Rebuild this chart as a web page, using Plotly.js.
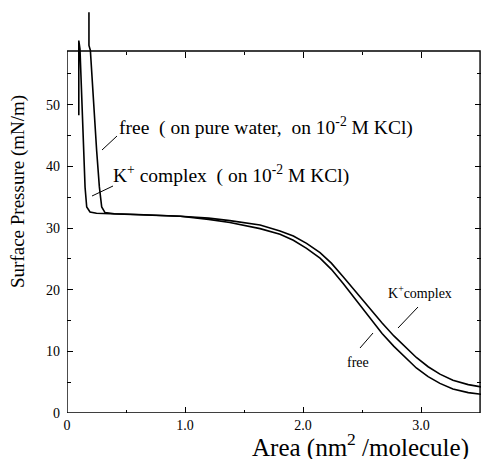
<!DOCTYPE html>
<html>
<head>
<meta charset="utf-8">
<script src="https://cdn.plot.ly/plotly-3.0.1.min.js"></script>
<style>html,body{margin:0;padding:0;background:#fff;}#chart{width:482px;height:459px;}</style>
</head>
<body>
<div id="chart"></div>
<script>
// ---- data (area in nm^2/molecule, surface pressure in mN/m) ----
const freeArea = [0.186, 0.186, 0.198, 0.223, 0.251, 0.274, 0.294, 0.322, 0.40, 0.60, 0.80, 0.96, 1.20, 1.38, 1.636, 1.805, 1.918, 2.03, 2.144, 2.24, 2.34, 2.45, 2.57, 2.67, 2.77, 2.87, 2.96, 3.06, 3.16, 3.27, 3.40, 3.52];
const freePressure = [65.0, 59.6, 58.8, 50.7, 42.6, 36.7, 33.4, 32.5, 32.3, 32.2, 32.1, 31.9, 31.4, 30.9, 29.9, 29.0, 28.0, 26.7, 25.1, 23.3, 21.0, 18.3, 15.3, 12.9, 10.8, 8.9, 7.3, 5.9, 4.8, 3.9, 3.3, 3.0];
const kArea = [0.100, 0.100, 0.110, 0.124, 0.138, 0.153, 0.167, 0.195, 0.25, 0.40, 0.60, 0.80, 0.96, 1.20, 1.38, 1.636, 1.805, 1.918, 2.03, 2.144, 2.24, 2.34, 2.45, 2.57, 2.67, 2.77, 2.87, 2.96, 3.06, 3.16, 3.27, 3.40, 3.52];
const kPressure = [48.3, 60.4, 59.0, 50.7, 42.6, 36.6, 33.4, 32.6, 32.4, 32.3, 32.2, 32.1, 31.9, 31.6, 31.2, 30.5, 29.5, 28.7, 27.5, 26.0, 24.3, 22.1, 19.6, 16.8, 14.6, 12.5, 10.6, 9.0, 7.5, 6.3, 5.3, 4.6, 4.2];
const xTickVals = [0, 1, 2, 3];
const xTickText = ["0", "1.0", "2.0", "3.0"];
const yTickVals = [0, 10, 20, 30, 40, 50];
const yTickText = ["0", "10", "20", "30", "40", "50"];
const xMinorVals = [0.5, 1.5, 2.5, 3.5];
const yMinorVals = [5, 15, 25, 35, 45, 55];
const frameTop = 58.7;
const xMax = 3.508;
const yMax = 66;

// ---- layout geometry (pixels) ----
const L = 67, R = 481, T = 6, B = 413;
const px = x => (x - L) / (R - L);
const py = y => (B - y) / (B - T);
const FONT = "Liberation Serif, Times New Roman, serif";

const traces = [
  {x: freeArea, y: freePressure, mode: "lines", line: {color: "#000", width: 1.6}, hoverinfo: "skip", showlegend: false},
  {x: kArea, y: kPressure, mode: "lines", line: {color: "#000", width: 1.6}, hoverinfo: "skip", showlegend: false},
  // empty trace so the top (frame) axis gets drawn
  {x: [], y: [], xaxis: "x2", yaxis: "y", mode: "lines", hoverinfo: "skip", showlegend: false}
];

const axisCommon = {
  showgrid: false, zeroline: false, showline: false,
  ticks: "inside", ticklen: 6, tickwidth: 1, tickcolor: "#000",
  tickfont: {family: FONT, size: 14, color: "#000"}
};

const layout = {
  width: 482, height: 459,
  margin: {l: L, r: 482 - R, t: T, b: 459 - B, pad: 0},
  paper_bgcolor: "#fff", plot_bgcolor: "#fff",
  font: {family: FONT, color: "#000"},
  xaxis: Object.assign({}, axisCommon, {
    range: [0, xMax], tickmode: "array", tickvals: xTickVals, ticktext: xTickText, ticklabelstandoff: 2,
    minor: {tickmode: "array", tickvals: xMinorVals, ticks: "inside", ticklen: 3, tickcolor: "#000"}
  }),
  yaxis: Object.assign({}, axisCommon, {
    range: [0, yMax], tickmode: "array", tickvals: yTickVals, ticktext: yTickText, ticklabelstandoff: 6,
    mirror: "ticks",
    minor: {tickmode: "array", tickvals: yMinorVals, ticks: "inside", ticklen: 4, tickcolor: "#000"}
  }),
  xaxis2: Object.assign({}, axisCommon, {
    overlaying: "x", side: "top", anchor: "free", position: frameTop / yMax,
    range: [0, xMax], tickmode: "array", tickvals: xTickVals, showticklabels: false,
    minor: {tickmode: "array", tickvals: xMinorVals, ticks: "inside", ticklen: 3, tickcolor: "#000"}
  }),
  shapes: [
    {type: "rect", xref: "x", yref: "y", x0: 0, y0: 0, x1: 3.5, y1: frameTop, line: {color: "#000", width: 1.4}},
    {type: "line", xref: "paper", yref: "paper", x0: px(102), y0: py(150), x1: px(117), y1: py(136), line: {color: "#000", width: 1}},
    {type: "line", xref: "paper", yref: "paper", x0: px(92), y0: py(196), x1: px(113), y1: py(186), line: {color: "#000", width: 1}},
    {type: "line", xref: "paper", yref: "paper", x0: px(418), y0: py(307), x1: px(398), y1: py(328), line: {color: "#000", width: 1}},
    {type: "line", xref: "paper", yref: "paper", x0: px(373), y0: py(333), x1: px(360), y1: py(348), line: {color: "#000", width: 1}}
  ],
  annotations: [
    {xref: "paper", yref: "paper", x: px(117), y: py(127), xanchor: "left", yanchor: "middle", showarrow: false,
     text: "free  ( on pure water,  on 10<sup>-2</sup> M KCl)", font: {family: FONT, size: 19.5, color: "#000"}},
    {xref: "paper", yref: "paper", x: px(111), y: py(174), xanchor: "left", yanchor: "middle", showarrow: false,
     text: "K<sup>+</sup> complex  ( on 10<sup>-2</sup> M KCl)", font: {family: FONT, size: 19.5, color: "#000"}},
    {xref: "paper", yref: "paper", x: px(420), y: py(292), xanchor: "center", yanchor: "middle", showarrow: false,
     text: "K<sup>+</sup>complex", font: {family: FONT, size: 14, color: "#000"}},
    {xref: "paper", yref: "paper", x: px(358), y: py(362), xanchor: "center", yanchor: "middle", showarrow: false,
     text: "free", font: {family: FONT, size: 14, color: "#000"}},
    {xref: "paper", yref: "paper", x: px(360), y: py(445), xanchor: "center", yanchor: "middle", showarrow: false,
     text: "Area (nm<sup>2</sup> /molecule)", font: {family: FONT, size: 25, color: "#000"}},
    {xref: "paper", yref: "paper", x: px(18), y: py(192), xanchor: "center", yanchor: "middle", showarrow: false, textangle: -90,
     text: "Surface Pressure (mN/m)", font: {family: FONT, size: 19, color: "#000"}}
  ]
};

Plotly.newPlot("chart", traces, layout, {displayModeBar: false, staticPlot: true});
</script>
</body>
</html>
